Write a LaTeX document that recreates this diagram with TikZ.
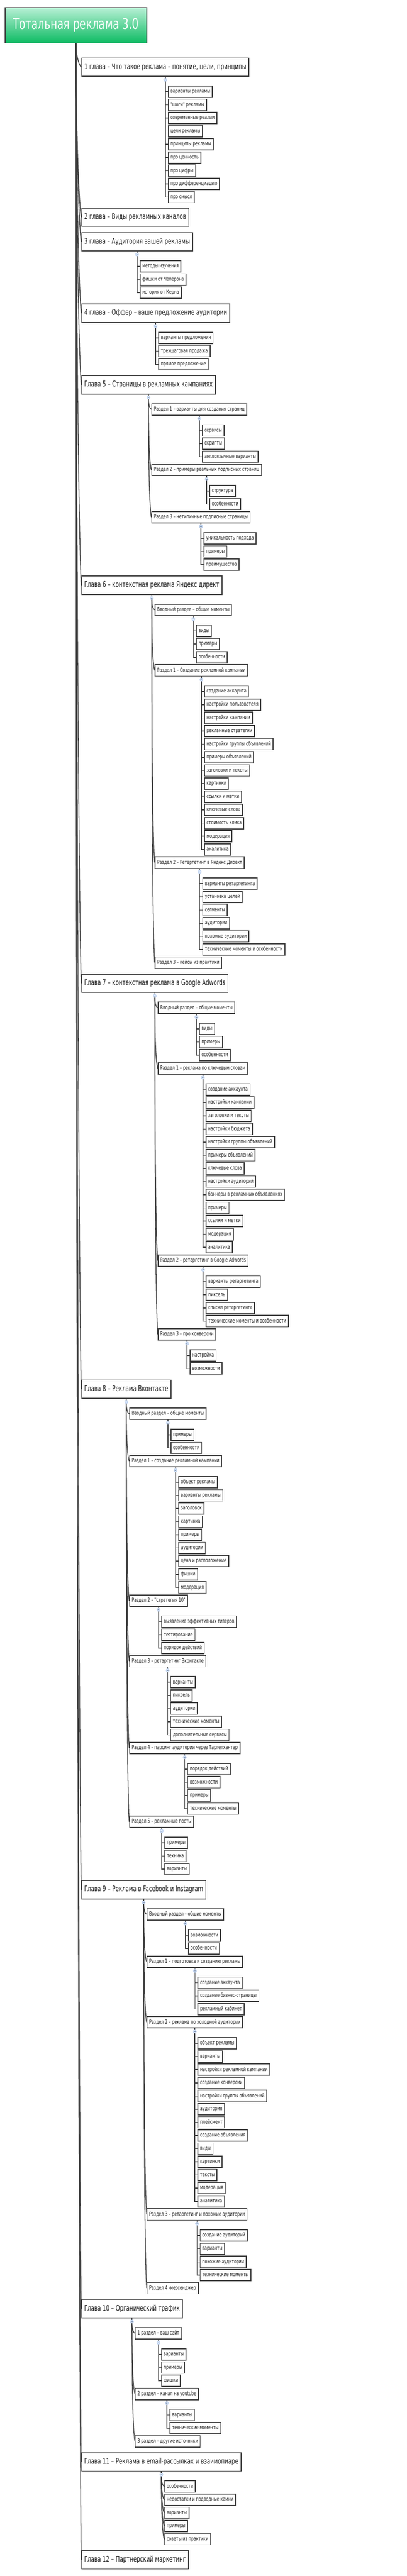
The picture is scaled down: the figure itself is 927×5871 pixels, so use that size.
\documentclass[tikz,border=0pt]{standalone}
\usepackage{fontspec}
\newfontfamily\mf{DejaVu Sans}[FakeStretch=0.70]
\usetikzlibrary{calc}
\definecolor{ln}{HTML}{404040}
\definecolor{txt}{HTML}{1E1E1E}
\definecolor{bulfill}{HTML}{D6E4F8}
\definecolor{buldraw}{HTML}{A6C0E8}
\definecolor{gtop}{HTML}{B8F0D5}
\definecolor{gbot}{HTML}{0DBB63}
\tikzset{
 box/.style={draw=ln, line width=2pt, rectangle, anchor=north west, text=txt, inner ysep=0pt},
 rootbox/.style={box, minimum height=81pt, inner xsep=18pt, top color=gtop, bottom color=gbot, text=white, font=\mf\fontsize{33.5}{36}\selectfont, text height=24pt, text depth=7pt},
 chap/.style={box, minimum height=42pt, inner xsep=6pt, font=\mf\fontsize{17.7}{20}\selectfont, text height=13pt, text depth=4pt},
 sect/.style={box, minimum height=26pt, inner xsep=5pt, font=\mf\fontsize{12.8}{14}\selectfont, text height=9.5pt, text depth=3pt},
 leaf/.style={sect},
 conn/.style={draw=ln, line width=1.8pt},
 bul/.style={circle, draw=buldraw, fill=bulfill, line width=0.6pt, inner sep=0pt, minimum size=7.5pt},
}
\newcommand\curveconn[2]{\draw[conn] (#1) .. controls ($(#1)!0.5!(#1 |- #2.west)$) and ($(#2.west)!0.1!(#1)+(-4pt,0pt)$) .. (#2.west);}
\newcommand\drawbul[1]{%
  \draw[conn] (#1.south) -- (#1-b);
  \node[bul] at (#1-b) {};
  \draw[line width=0.6pt, draw=buldraw!70!black] ([xshift=-1.8pt]#1-b) -- ([xshift=1.8pt]#1-b);
}
\newcommand\mkchap[3]{%
  \node[chap] (#1) at (185,-#2) {#3};
  \coordinate (#1-b) at ([yshift=-7pt]#1.south);
  \curveconn{rs}{#1}
}
\newcommand\mksec[4]{%
  \path let \p1=(#1-b) in node[sect] (#2) at (\x1+6.5pt,-#3pt) {#4};
  \coordinate (#2-b) at ([yshift=-7pt]#2.south);
  \curveconn{#1-b}{#2}
}
\newcommand\kids[3]{%
  \coordinate (#1-b) at ([yshift=-7pt]#1.south);
  \foreach \t [count=\i] in {#3}{%
    \pgfmathsetmacro\yy{-(#2)-30*(\i-1)}%
    \path let \p1=(#1-b) in node[leaf] (#1-\i) at (\x1+6pt,\yy pt) {\t};
    \draw[conn] (#1.south) -- (#1-b |- #1-\i.west) -- (#1-\i.west);
  }%
  \drawbul{#1}%
}
\begin{document}
\begin{tikzpicture}[x=1pt,y=1pt]
\useasboundingbox (0,0) rectangle (927,-5871);
\node[rootbox] (root) at (11,-16) {Тотальная реклама 3.0};
\coordinate (rs) at (root.south);
% Chapter 1
\mkchap{c1}{131}{1 глава – Что такое реклама – понятие, цели, принципы}
\kids{c1}{195}{варианты рекламы, "шаги" рекламы, современные реалии, цели рекламы, принципы рекламы, про ценность, про цифры, про дифференциацию, про смысл}
% Chapter 2
\mkchap{c2}{473}{2 глава – Виды рекламных каналов}
% Chapter 3
\mkchap{c3}{529}{3 глава – Аудитория вашей рекламы}
\kids{c3}{593}{методы изучения, фишки от Чаперона, история от Керна}
% Chapter 4
\mkchap{c4}{692}{4 глава – Оффер – ваше предложение аудитории}
\kids{c4}{756}{варианты предложения, трехшаговая продажа, прямое предложение}
% Chapter 5
\mkchap{c5}{855}{Глава 5 – Страницы в рекламных кампаниях}
\mksec{c5}{s51}{919}{Раздел 1 – варианты для создания страниц}
\kids{s51}{967}{сервисы, скрипты, англоязычные варианты}
\mksec{c5}{s52}{1057}{Раздел 2 – примеры реальных подписных страниц}
\kids{s52}{1105}{структура, особенности}
\mksec{c5}{s53}{1165}{Раздел 3 – нетипичные подписные страницы}
\kids{s53}{1213}{уникальность подхода, примеры, преимущества}
\drawbul{c5}
% Chapter 6
\mkchap{c6}{1312}{Глава 6 – контекстная реклама Яндекс директ}
\mksec{c6}{s60}{1376}{Вводный раздел – общие моменты}
\kids{s60}{1424}{виды, примеры, особенности}
\mksec{c6}{s61}{1514}{Раздел 1 – Создание рекламной кампании}
\kids{s61}{1562}{создание аккаунта, настройки пользователя, настройки кампании, рекламные стратегии, настройки группы объявлений, примеры объявлений, заголовки и тексты, картинки, ссылки и метки, ключевые слова, стоимость клика, модерация, аналитика}
\mksec{c6}{s62}{1952}{Раздел 2 – Ретаргетинг в Яндекс Директ}
\kids{s62}{2000}{варианты ретаргетинга, установка целей, сегменты, аудитории, похожие аудитории, технические моменты и особенности}
\mksec{c6}{s63}{2180}{Раздел 3 – кейсы из практики}
\drawbul{c6}
% Chapter 7
\mkchap{c7}{2219}{Глава 7 – контекстная реклама в Google Adwords}
\mksec{c7}{s70}{2283}{Вводный раздел – общие моменты}
\kids{s70}{2331}{виды, примеры, особенности}
\mksec{c7}{s71}{2421}{Раздел 1 – реклама по ключевым словам}
\kids{s71}{2469}{создание аккаунта, настройки кампании, заголовки и тексты, настройки бюджета, настройки группы объявлений, примеры объявлений, ключевые слова, настройки аудиторий, баннеры в рекламных объявлениях, примеры, ссылки и метки, модерация, аналитика}
\mksec{c7}{s72}{2859}{Раздел 2 – ретаргетинг в Google Adwords}
\kids{s72}{2907}{варианты ретаргетинга, пиксель, списки ретаргетинга, технические моменты и особенности}
\mksec{c7}{s73}{3027}{Раздел 3 – про конверсии}
\kids{s73}{3075}{настройка, возможности}
\drawbul{c7}
% Chapter 8
\mkchap{c8}{3144}{Глава 8 – Реклама Вконтакте}
\mksec{c8}{s80}{3208}{Вводный раздел – общие моменты}
\kids{s80}{3256}{примеры, особенности}
\mksec{c8}{s81}{3316}{Раздел 1 – создание рекламной кампании}
\kids{s81}{3364}{объект рекламы, варианты рекламы, заголовок, картинка, примеры, аудитории, цена и расположение, фишки, модерация}
\mksec{c8}{s82}{3634}{Раздел 2 – "стратегия 10"}
\kids{s82}{3682}{выявление эффективных тизеров, тестирование, порядок действий}
\mksec{c8}{s83}{3772}{Раздел 3 – ретаргетинг Вконтакте}
\kids{s83}{3820}{варианты, пиксель, аудитории, технические моменты, дополнительные сервисы}
\mksec{c8}{s84}{3970}{Раздел 4 – парсинг аудитории через Таргетхантер}
\kids{s84}{4018}{порядок действий, возможности, примеры, технические моменты}
\mksec{c8}{s85}{4138}{Раздел 5 – рекламные посты}
\kids{s85}{4186}{примеры, техника, варианты}
\drawbul{c8}
% Chapter 9
\mkchap{c9}{4285}{Глава 9 – Реклама в Facebook и Instagram}
\mksec{c9}{s90}{4349}{Вводный раздел – общие моменты}
\kids{s90}{4397}{возможности, особенности}
\mksec{c9}{s91}{4457}{Раздел 1 – подготовка к созданию рекламы}
\kids{s91}{4505}{создание аккаунта, создание бизнес-страницы, рекламный кабинет}
\mksec{c9}{s92}{4595}{Раздел 2 – реклама по холодной аудитории}
\kids{s92}{4643}{объект рекламы, варианты, настройки рекламной кампании, создание конверсии, настройки группы объявлений, аудитория, плейсмент, создание объявления, виды, картинки, тексты, модерация, аналитика}
\mksec{c9}{s93}{5033}{Раздел 3 – ретаргетинг и похожие аудитории}
\kids{s93}{5081}{создание аудиторий, варианты, похожие аудитории, технические моменты}
\mksec{c9}{s94}{5201}{Раздел 4 -мессенджер}
\drawbul{c9}
% Chapter 10
\mkchap{c10}{5240}{Глава 10 – Органический трафик}
\mksec{c10}{s101}{5304}{1 раздел – ваш сайт}
\kids{s101}{5352}{варианты, примеры, фишки}
\mksec{c10}{s102}{5442}{2 раздел – канал на youtube}
\kids{s102}{5490}{варианты, технические моменты}
\mksec{c10}{s103}{5550}{3 раздел – другие источники}
\drawbul{c10}
% Chapter 11
\mkchap{c11}{5589}{Глава 11 – Реклама в email-рассылках и взаимопиаре}
\mksec{c11}{e1}{5653}{особенности}
\mksec{c11}{e2}{5683}{недостатки и подводные камни}
\mksec{c11}{e3}{5713}{варианты}
\mksec{c11}{e4}{5743}{примеры}
\mksec{c11}{e5}{5773}{советы из практики}
\drawbul{c11}
% Chapter 12
\mkchap{c12}{5812}{Глава 12 – Партнерский маркетинг}
\end{tikzpicture}
\end{document}
